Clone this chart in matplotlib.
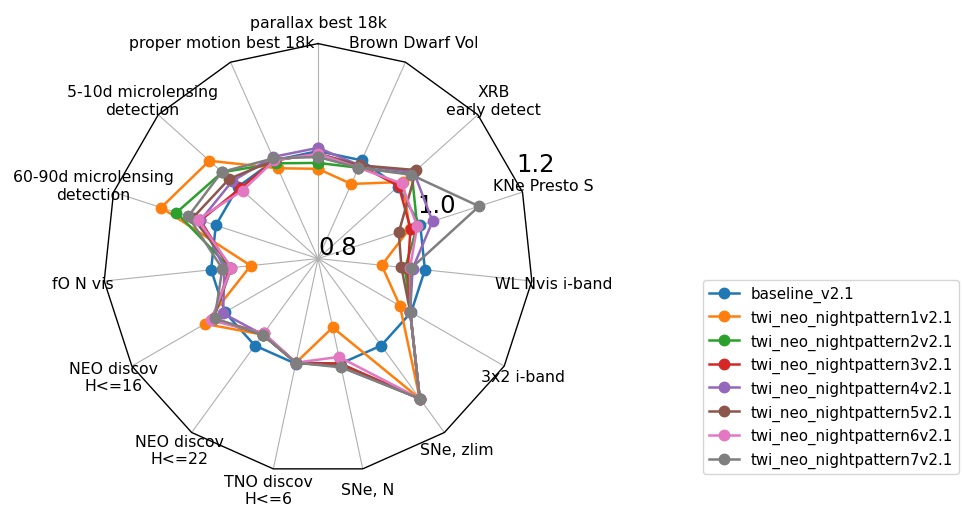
import matplotlib

matplotlib.use("Agg")

import matplotlib.pyplot as plt
import numpy as np

metrics = [
    "parallax best 18k",
    "proper motion best 18k",
    "5-10d microlensing\ndetection",
    "60-90d microlensing\ndetection",
    "fO N vis",
    "NEO discov\nH<=16",
    "NEO discov\nH<=22",
    "TNO discov\nH<=6",
    "SNe, N",
    "SNe, zlim",
    "3x2 i-band",
    "WL Nvis i-band",
    "KNe Presto S",
    "XRB\nearly detect",
    "Brown Dwarf Vol",
]

runs = [
    "baseline_v2.1",
    "twi_neo_nightpattern1v2.1",
    "twi_neo_nightpattern2v2.1",
    "twi_neo_nightpattern3v2.1",
    "twi_neo_nightpattern4v2.1",
    "twi_neo_nightpattern5v2.1",
    "twi_neo_nightpattern6v2.1",
    "twi_neo_nightpattern7v2.1",
]

baseline = [1.0, 1.0, 1.0, 1.0, 1.0, 1.0, 1.0, 1.0, 1.0, 1.0, 1.0, 1.0, 1.0, 1.0, 1.0]
pattern1 = [0.967, 0.984, 1.072, 1.107, 0.926, 1.043, 0.975, 0.998, 0.931, 1.122, 0.976, 0.919, 0.979, 1.013, 0.952]
pattern2 = [0.978, 0.994, 1.040, 1.077, 0.965, 1.025, 0.975, 0.998, 1.000, 1.122, 0.998, 0.963, 0.994, 1.035, 0.985]
pattern3 = [0.995, 1.000, 0.995, 1.030, 0.965, 1.025, 0.972, 0.998, 1.000, 1.122, 0.998, 0.968, 0.981, 1.002, 0.990]
pattern4 = [1.006, 1.007, 1.015, 1.030, 0.975, 1.004, 0.975, 0.998, 1.005, 1.122, 0.998, 0.977, 1.024, 1.040, 0.990]
pattern5 = [0.995, 1.000, 1.022, 1.045, 0.962, 1.025, 0.975, 0.998, 1.005, 1.122, 0.998, 0.956, 0.958, 1.046, 0.990]
pattern6 = [0.995, 1.000, 0.989, 1.035, 0.962, 1.030, 0.972, 0.998, 0.987, 1.122, 0.998, 0.972, 0.994, 1.009, 0.985]
pattern7 = [0.989, 1.004, 1.041, 1.054, 0.979, 1.022, 0.975, 0.998, 1.007, 1.122, 0.998, 0.974, 1.115, 1.033, 0.985]

series = [baseline, pattern1, pattern2, pattern3, pattern4, pattern5, pattern6, pattern7]
rgrids = [0.8, 1.0, 1.2]

plt.rcParams["font.size"] = 11.3

theta = np.linspace(0, 2 * np.pi, len(metrics), endpoint=False)

fig = plt.figure(figsize=(9.63, 5.06), dpi=100)
ax = fig.add_axes([0.107, 0.062, 0.4465, 0.85], projection="polar")
ax.set_theta_offset(np.pi / 2)
ax.set_ylim(rgrids[0], rgrids[-1])
ax.set_rgrids(rgrids, fontsize=17.5)
ax.set_rlabel_position(22.5 - 90)
ax.yaxis.grid(False)
ax.spines["polar"].set_visible(False)

# polygon frame instead of the circle
frame_theta = np.append(theta, theta[0])
ax.plot(frame_theta, [rgrids[-1]] * len(frame_theta), color="black", lw=1.0, clip_on=False, zorder=3)

handles = []
for values in series:
    (line,) = ax.plot(np.append(theta, theta[0]), values + values[:1], marker="o", ms=7.5, lw=1.8)
    handles.append(line)

ax.set_thetagrids(np.degrees(theta), metrics)
ax.tick_params(axis="x", pad=5)

ax.legend(
    handles,
    runs,
    loc="center left",
    bbox_to_anchor=(0.722, 0.253),
    bbox_transform=fig.transFigure,
    fontsize=10.8,
)

fig.savefig("out.png", dpi=100)
